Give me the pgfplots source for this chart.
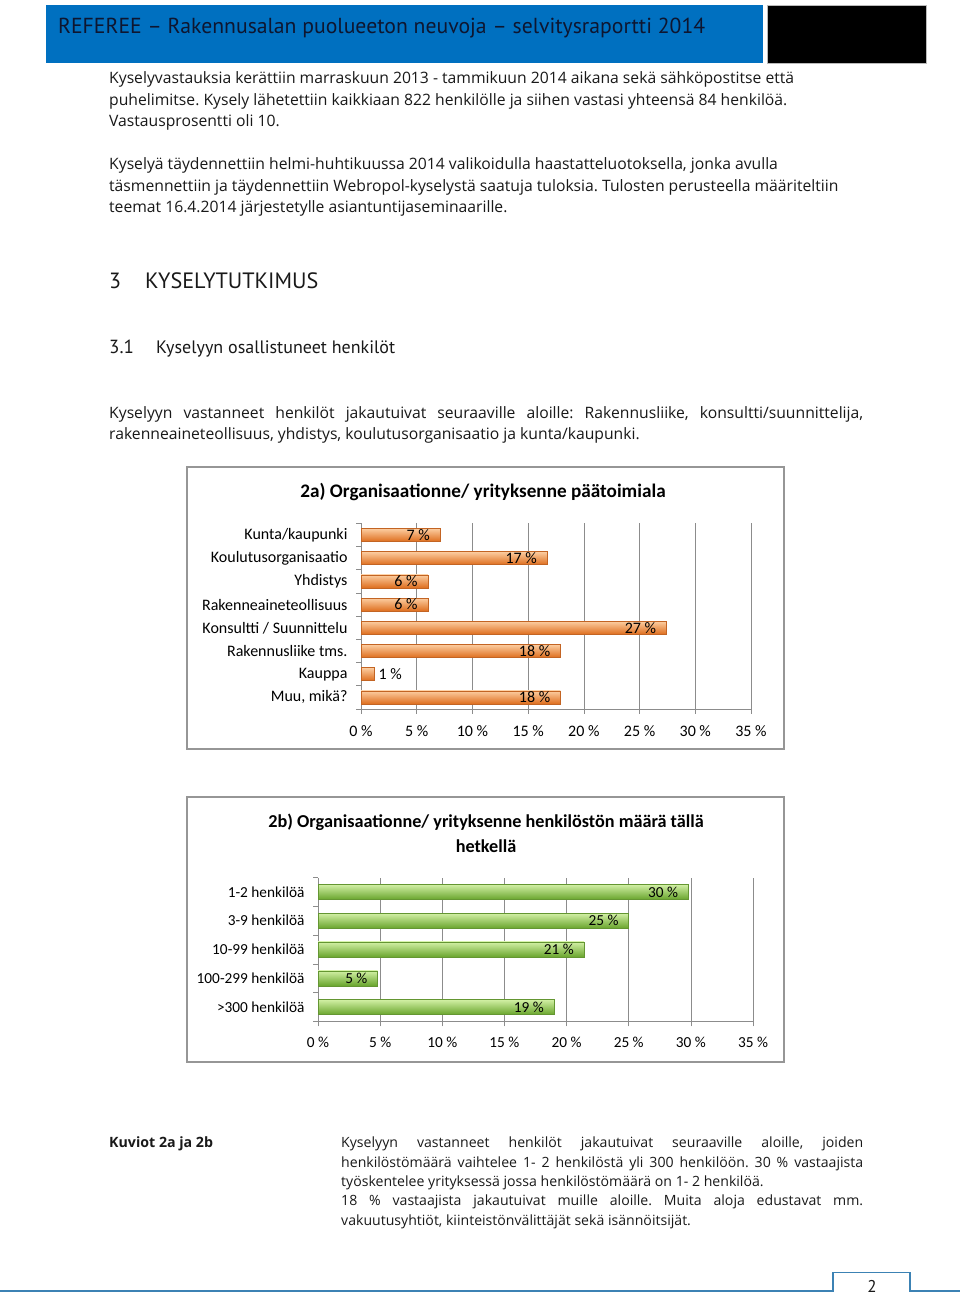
\documentclass[border=0pt]{standalone}
\usepackage{fontspec}
\usepackage{pgfplots}
\pgfplotsset{compat=1.18}
\setmainfont{Open Sans}
\newfontfamily\ptsans{PT Sans}
\newfontfamily\carlito{Carlito}
\frenchspacing
\definecolor{hdrblue}{RGB}{0,112,192}
\definecolor{hdrtext}{RGB}{14,22,48}
\definecolor{bodytext}{RGB}{25,25,25}
\definecolor{gridgray}{RGB}{140,140,140}
\definecolor{framegray}{RGB}{150,150,150}
\definecolor{footblue}{RGB}{60,130,180}
\definecolor{orTop}{RGB}{252,205,160}
\definecolor{orMid}{RGB}{247,150,70}
\definecolor{orBot}{RGB}{222,110,30}
\definecolor{orDraw}{RGB}{195,100,35}
\definecolor{grTop}{RGB}{210,240,165}
\definecolor{grMid}{RGB}{146,208,80}
\definecolor{grBot}{RGB}{105,165,45}
\definecolor{grDraw}{RGB}{100,150,50}

\newcommand{\bodyfont}{\fontsize{15.7}{18}\selectfont}
\newcommand{\chartfontA}{\carlito\fontsize{16}{18}\selectfont}
\newcommand{\chartfontB}{\carlito\fontsize{15.3}{17}\selectfont}

\pgfplotsset{excelbar/.style={
  scale only axis,
  anchor=south west,
  xmin=0, xmax=35,
  axis x line*=bottom, axis y line*=left,
  axis line style={draw=gridgray, line width=0.7pt},
  xmajorgrids, grid style={draw=gridgray, line width=0.6pt},
  xtick={0,5,...,35},
  xticklabels={0 \%,5 \%,10 \%,15 \%,20 \%,25 \%,30 \%,35 \%},
  minor xtick={0,5,...,35},
  major tick length=0pt, minor tick length=5pt,
  tick align=outside,
  tick style={draw=gridgray, line width=0.7pt},
  tick label style={text=black},
  yticklabel style={xshift=-10pt},
  /pgf/number format/assume math mode=true,
  xbar, bar shift=0pt,
  nodes near coords={\pgfmathprintnumber[fixed,precision=0]{\pgfplotspointmeta}\ \%},
  point meta=x,
  every node near coord/.append style={text=black, inner sep=0pt},
  clip=false,
},
orbar/.style={draw=orDraw, line width=0.5pt, top color=orTop, middle color=orMid, bottom color=orBot},
grbar/.style={draw=grDraw, line width=0.5pt, top color=grTop, middle color=grMid, bottom color=grBot},
lblin/.style={every node near coord/.append style={anchor=east, xshift=-10pt}},
lblout/.style={every node near coord/.append style={anchor=west, xshift=4pt}},
}

\begin{document}
\begin{tikzpicture}[x=1pt,y=1pt]
\path[use as bounding box] (0,0) rectangle (960,1297);
\fill[white] (0,0) rectangle (960,1297);

% header
\fill[hdrblue] (46,1234) rectangle (763,1292);
\fill[black] (767,1234) rectangle (926,1292);
\draw[gridgray!60, line width=0.6pt] (767,1234) rectangle (926,1292);
\node[anchor=base west, inner sep=0, text=hdrtext, font=\ptsans\fontsize{21.7}{24}\selectfont] at (58,1263.5)
  {REFEREE – Rakennusalan puolueeton neuvoja – selvitysraportti 2014};

% paragraphs
\begin{scope}[every node/.style={anchor=base west, inner sep=0, text=bodytext, font=\bodyfont}]
\node at (109,1213) {Kyselyvastauksia kerättiin marraskuun 2013 - tammikuun 2014 aikana sekä sähköpostitse että};
\node at (109,1191.5) {puhelimitse. Kysely lähetettiin kaikkiaan 822 henkilölle ja siihen vastasi yhteensä 84 henkilöä.};
\node at (109,1170) {Vastausprosentti oli 10.};
\node at (109,1127) {Kyselyä täydennettiin helmi-huhtikuussa 2014 valikoidulla haastatteluotoksella, jonka avulla};
\node at (109,1105.5) {täsmennettiin ja täydennettiin Webropol-kyselystä saatuja tuloksia. Tulosten perusteella määriteltiin};
\node at (109,1084) {teemat 16.4.2014 järjestetylle asiantuntijaseminaarille.};
\node[font=\ptsans\fontsize{22}{24}\selectfont] at (109,1008) {3};
\node[font=\ptsans\fontsize{22.2}{24}\selectfont] at (145,1008) {KYSELYTUTKIMUS};
\node[font=\ptsans\fontsize{19}{22}\selectfont] at (109,943) {3.1};
\node[font=\ptsans\fontsize{18}{22}\selectfont] at (156,943) {Kyselyyn osallistuneet henkilöt};
\node at (109,878) {\makebox[754pt][s]{Kyselyyn vastanneet henkilöt jakautuivat seuraaville aloille: Rakennusliike, konsultti/suunnittelija,}};
\node at (109,857) {rakenneaineteollisuus, yhdistys, koulutusorganisaatio ja kunta/kaupunki.};
\end{scope}

% chart frames
\draw[framegray, line width=1.5pt] (187,548) rectangle (784,830);
\draw[framegray, line width=1.5pt] (187,235) rectangle (784,500);

% chart 2a
\node[font=\carlito\bfseries\fontsize{19.2}{22}\selectfont] at (483,805) {2a) Organisaationne/ yrityksenne päätoimiala};
\begin{axis}[excelbar,
  at={(361pt,588pt)}, width=390pt, height=185.6pt,
  ymin=-0.5, ymax=7.5,
  ytick={0,...,7},
  yticklabels={{Muu, mikä?},Kauppa,Rakennusliike tms.,Konsultti / Suunnittelu,Rakenneaineteollisuus,Yhdistys,Koulutusorganisaatio,Kunta/kaupunki},
  minor ytick={-0.5,0.5,...,7.5},
  tick label style={font=\chartfontA},
  xticklabel style={yshift=-13pt},
  every node near coord/.append style={font=\chartfontA},
  bar width=13pt,
]
\addplot[orbar, lblin] coordinates {(7.1,7)};   % Kunta/kaupunki
\addplot[orbar, lblin] coordinates {(16.7,6)};  % Koulutusorganisaatio
\addplot[orbar, lblin] coordinates {(6.0,5)};   % Yhdistys
\addplot[orbar, lblin] coordinates {(6.0,4)};   % Rakenneaineteollisuus
\addplot[orbar, lblin] coordinates {(27.4,3)};  % Konsultti / Suunnittelu
\addplot[orbar, lblin] coordinates {(17.9,2)};  % Rakennusliike tms.
\addplot[orbar, lblout] coordinates {(1.2,1)};  % Kauppa
\addplot[orbar, lblin] coordinates {(17.9,0)};  % Muu, mikä?
\end{axis}

% chart 2b
\node[font=\carlito\bfseries\fontsize{18.2}{20}\selectfont] at (486,475) {2b) Organisaationne/ yrityksenne henkilöstön määrä tällä};
\node[font=\carlito\bfseries\fontsize{18.2}{20}\selectfont] at (486,451) {hetkellä};
\begin{axis}[excelbar,
  at={(318pt,275.6pt)}, width=435pt, height=143.8pt,
  ymin=-0.5, ymax=4.5,
  ytick={0,...,4},
  yticklabels={>300 henkilöä,100-299 henkilöä,10-99 henkilöä,3-9 henkilöä,1-2 henkilöä},
  minor ytick={-0.5,0.5,...,4.5},
  tick label style={font=\chartfontB},
  xticklabel style={yshift=-12pt},
  every node near coord/.append style={font=\chartfontB},
  bar width=15pt,
]
\addplot[grbar, lblin] coordinates {(29.8,4)};  % 1-2
\addplot[grbar, lblin] coordinates {(25.0,3)};  % 3-9
\addplot[grbar, lblin] coordinates {(21.4,2)};  % 10-99
\addplot[grbar, lblin] coordinates {(4.8,1)};   % 100-299
\addplot[grbar, lblin] coordinates {(19.0,0)};  % >300
\end{axis}

% bottom text
\begin{scope}[every node/.style={anchor=base west, inner sep=0, text=bodytext, font=\fontsize{14.1}{17}\selectfont}]
\node[font=\fontsize{14.2}{17}\selectfont\bfseries] at (109,149) {Kuviot 2a ja 2b};
\node at (341,149) {\makebox[522pt][s]{Kyselyyn vastanneet henkilöt jakautuivat seuraaville aloille, joiden}};
\node at (341,129) {\makebox[522pt][s]{henkilöstömäärä vaihtelee 1- 2 henkilöstä yli 300 henkilöön. 30 \% vastaajista}};
\node at (341,110) {työskentelee yrityksessä jossa henkilöstömäärä on 1- 2 henkilöä.};
\node at (341,91) {\makebox[522pt][s]{18 \% vastaajista jakautuivat muille aloille. Muita aloja edustavat mm.}};
\node at (341,71) {vakuutusyhtiöt, kiinteistönvälittäjät sekä isännöitsijät.};
\end{scope}

% footer
\draw[footblue, line width=1.4pt] (0,6) -- (833,6) -- (833,24.3) -- (910,24.3) -- (910,6) -- (960,6);
\node[anchor=base, inner sep=0, text=bodytext, font=\ptsans\fontsize{17}{20}\selectfont] at (872,5) {2};
\end{tikzpicture}
\end{document}
